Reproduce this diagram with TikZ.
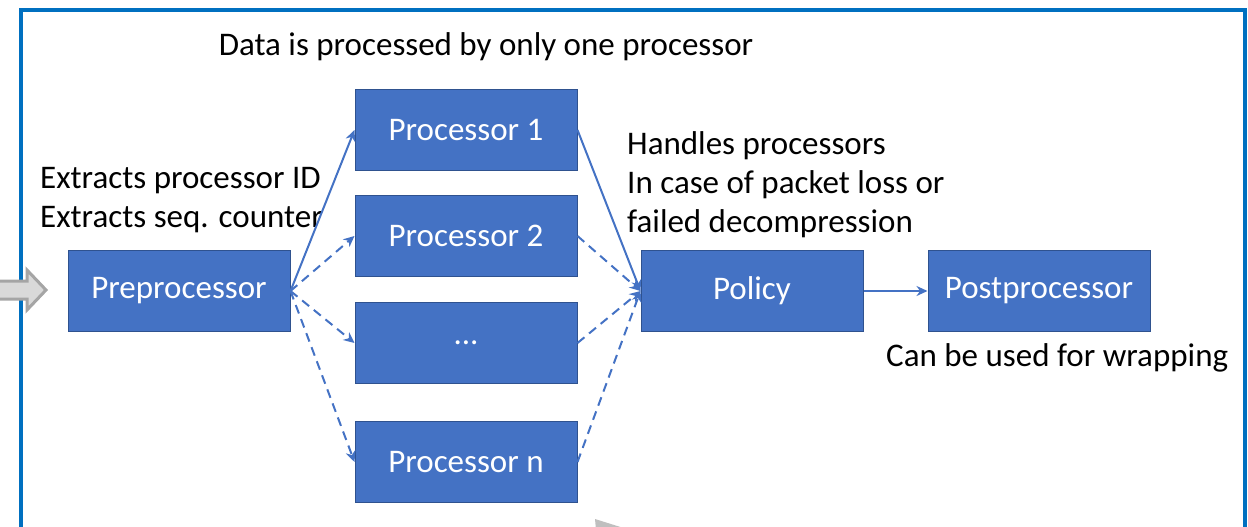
\documentclass[tikz,border=0pt]{standalone}
\usepackage{fontspec}
\setmainfont{Carlito}
\usetikzlibrary{arrows.meta}
\definecolor{boxfill}{HTML}{4472C4}
\definecolor{boxline}{HTML}{2F528F}
\definecolor{frameblue}{HTML}{0070C0}
\definecolor{grayfill}{HTML}{D9D9D9}
\definecolor{grayline}{HTML}{A5A5A5}
\tikzset{
  blockbox/.style={draw=boxline, line width=1pt, fill=boxfill, text=white,
    minimum width=222pt, minimum height=81pt, inner sep=0pt,
    font=\fontsize{33}{38}\selectfont},
  note/.style={anchor=west, inner sep=0pt, align=left,
    font=\fontsize{33}{39}\selectfont},
  link/.style={draw=boxfill, line width=2pt, -{Stealth[length=11pt,width=10pt]}},
  maybe/.style={link, dash pattern=on 9pt off 6pt}
}
\begin{document}
\begin{tikzpicture}[x=1pt,y=-1pt]
\useasboundingbox (0,0) rectangle (1248,527);
\begin{scope}
  \clip (0,0) rectangle (1248,527);
  % outer frame
  \draw[frameblue, line width=4pt] (21,10) rectangle (1245,560);
  % gray intake arrow
  \draw[grayline, fill=grayfill, line width=3pt, line join=miter]
    (-5,281) -- (27,281) -- (27,270) -- (46,290) -- (27,310) -- (27,299) -- (-5,299) -- cycle;
  % gray wedge at the bottom edge
  \fill[gray!50] (595,519) -- (630,530) -- (596,530) -- cycle;
\end{scope}

% blocks
\node[blockbox] (pre)  at (179,291) {Preprocessor};
\node[blockbox] (p1)   at (466,130) {Processor 1};
\node[blockbox] (p2)   at (466,236) {Processor 2};
\node[blockbox] (pdot) at (466,343) {...};
\node[blockbox] (pn)   at (466,462) {Processor n};
\node[blockbox] (pol)  at (752,291) {Policy};
\node[blockbox] (post) at (1039,291) {Postprocessor};

% labels
\node[font=\fontsize{33}{38}\selectfont, inner sep=0pt] (title) at (486,47) {Data is processed by only one processor};
\node[note] (extr) at (40,200) {Extracts processor ID\\Extracts seq. counter};
\node[note] (hand) at (627,185) {Handles processors\\In case of packet loss or\\failed decompression};
\node[note] (wrap) at (886,358) {Can be used for wrapping};

% fan-out
\draw[link]  (pre.east) -- (p1.west);
\draw[maybe] (pre.east) -- (p2.west);
\draw[maybe] (pre.east) -- (pdot.west);
\draw[maybe] (pre.east) -- (pn.west);
% fan-in
\draw[link]  (p1.east) -- (pol.west);
\draw[maybe] (p2.east) -- (pol.west);
\draw[maybe] (pdot.east) -- (pol.west);
\draw[maybe] (pn.east) -- (pol.west);
% output
\draw[link]  (pol.east) -- (post.west);
\end{tikzpicture}
\end{document}
